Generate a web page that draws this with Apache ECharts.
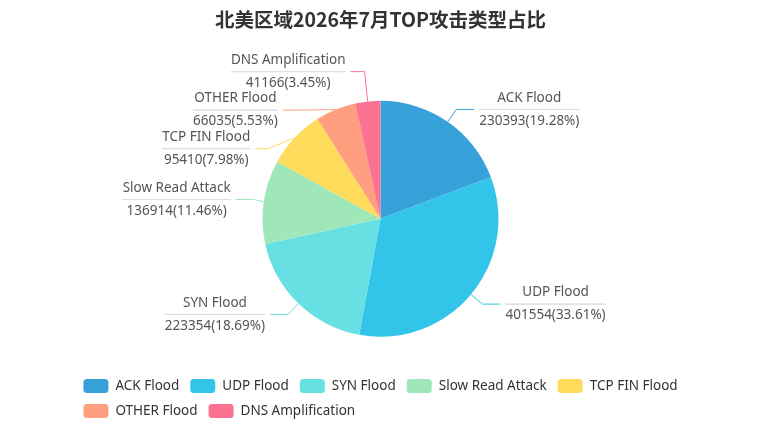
<!DOCTYPE html>
<html><head><meta charset="utf-8">
<script src="https://cdn.jsdelivr.net/npm/echarts@6/dist/echarts.min.js"></script>
<style>html,body{margin:0;padding:0;background:#fff}#c{width:761px;height:429px}</style>
</head><body><div id="c"></div>
<script>
var titleText = '北美区域2026年7月TOP攻击类型占比';
var categories = ['ACK Flood','UDP Flood','SYN Flood','Slow Read Attack','TCP FIN Flood','OTHER Flood','DNS Amplification'];
var values = [230393, 401554, 223354, 136914, 95410, 66035, 41166];
var colors = ['#37A2DA','#32C5E9','#67E0E3','#9FE6B8','#FFDB5C','#ff9f7f','#fb7293'];
var lineLen = [15, 15, 15, 15, 15, 15, 30];
var lineLen2 = [18, 18, 18, 18, 13, 12, 14];
var FONT = '"Noto Sans","Noto Sans CJK SC",sans-serif';
var chart = echarts.init(document.getElementById('c'));
chart.setOption({
  color: colors,
  textStyle: {fontFamily: FONT},
  title: {text: titleText, left: 'center', top: 5,
    textStyle: {fontSize: 19.5, fontWeight: 'bold', color: '#333', fontFamily: '"Noto Sans CJK SC",sans-serif'}},
  legend: {bottom: 6, left: 'center', width: 640, itemWidth: 25, itemHeight: 14, itemGap: 11,
    textStyle: {fontSize: 13.5, color: '#333', padding: [0, 0, 0, 2]}, data: categories},
  series: [{
    type: 'pie', radius: 118, center: ['50%', '51%'],
    data: categories.map(function(n,i){
      return {name:n, value: values[i], labelLine: {length: lineLen[i], length2: lineLen2[i]}};
    }),
    label: {
      formatter: '{b|{b}}\n{hr|}\n{c|{c}({d}%)}',
      color: '#555',
      rich: {
        b: {fontSize: 13.5, color: '#555', lineHeight: 23, align: 'center'},
        hr: {borderColor: '#ddd', width: '100%', borderWidth: 1, height: 0},
        c: {fontSize: 13.5, color: '#555', lineHeight: 23, align: 'center'}
      }
    },
    labelLine: {length: 15, length2: 18}
  }]
});
</script></body></html>
